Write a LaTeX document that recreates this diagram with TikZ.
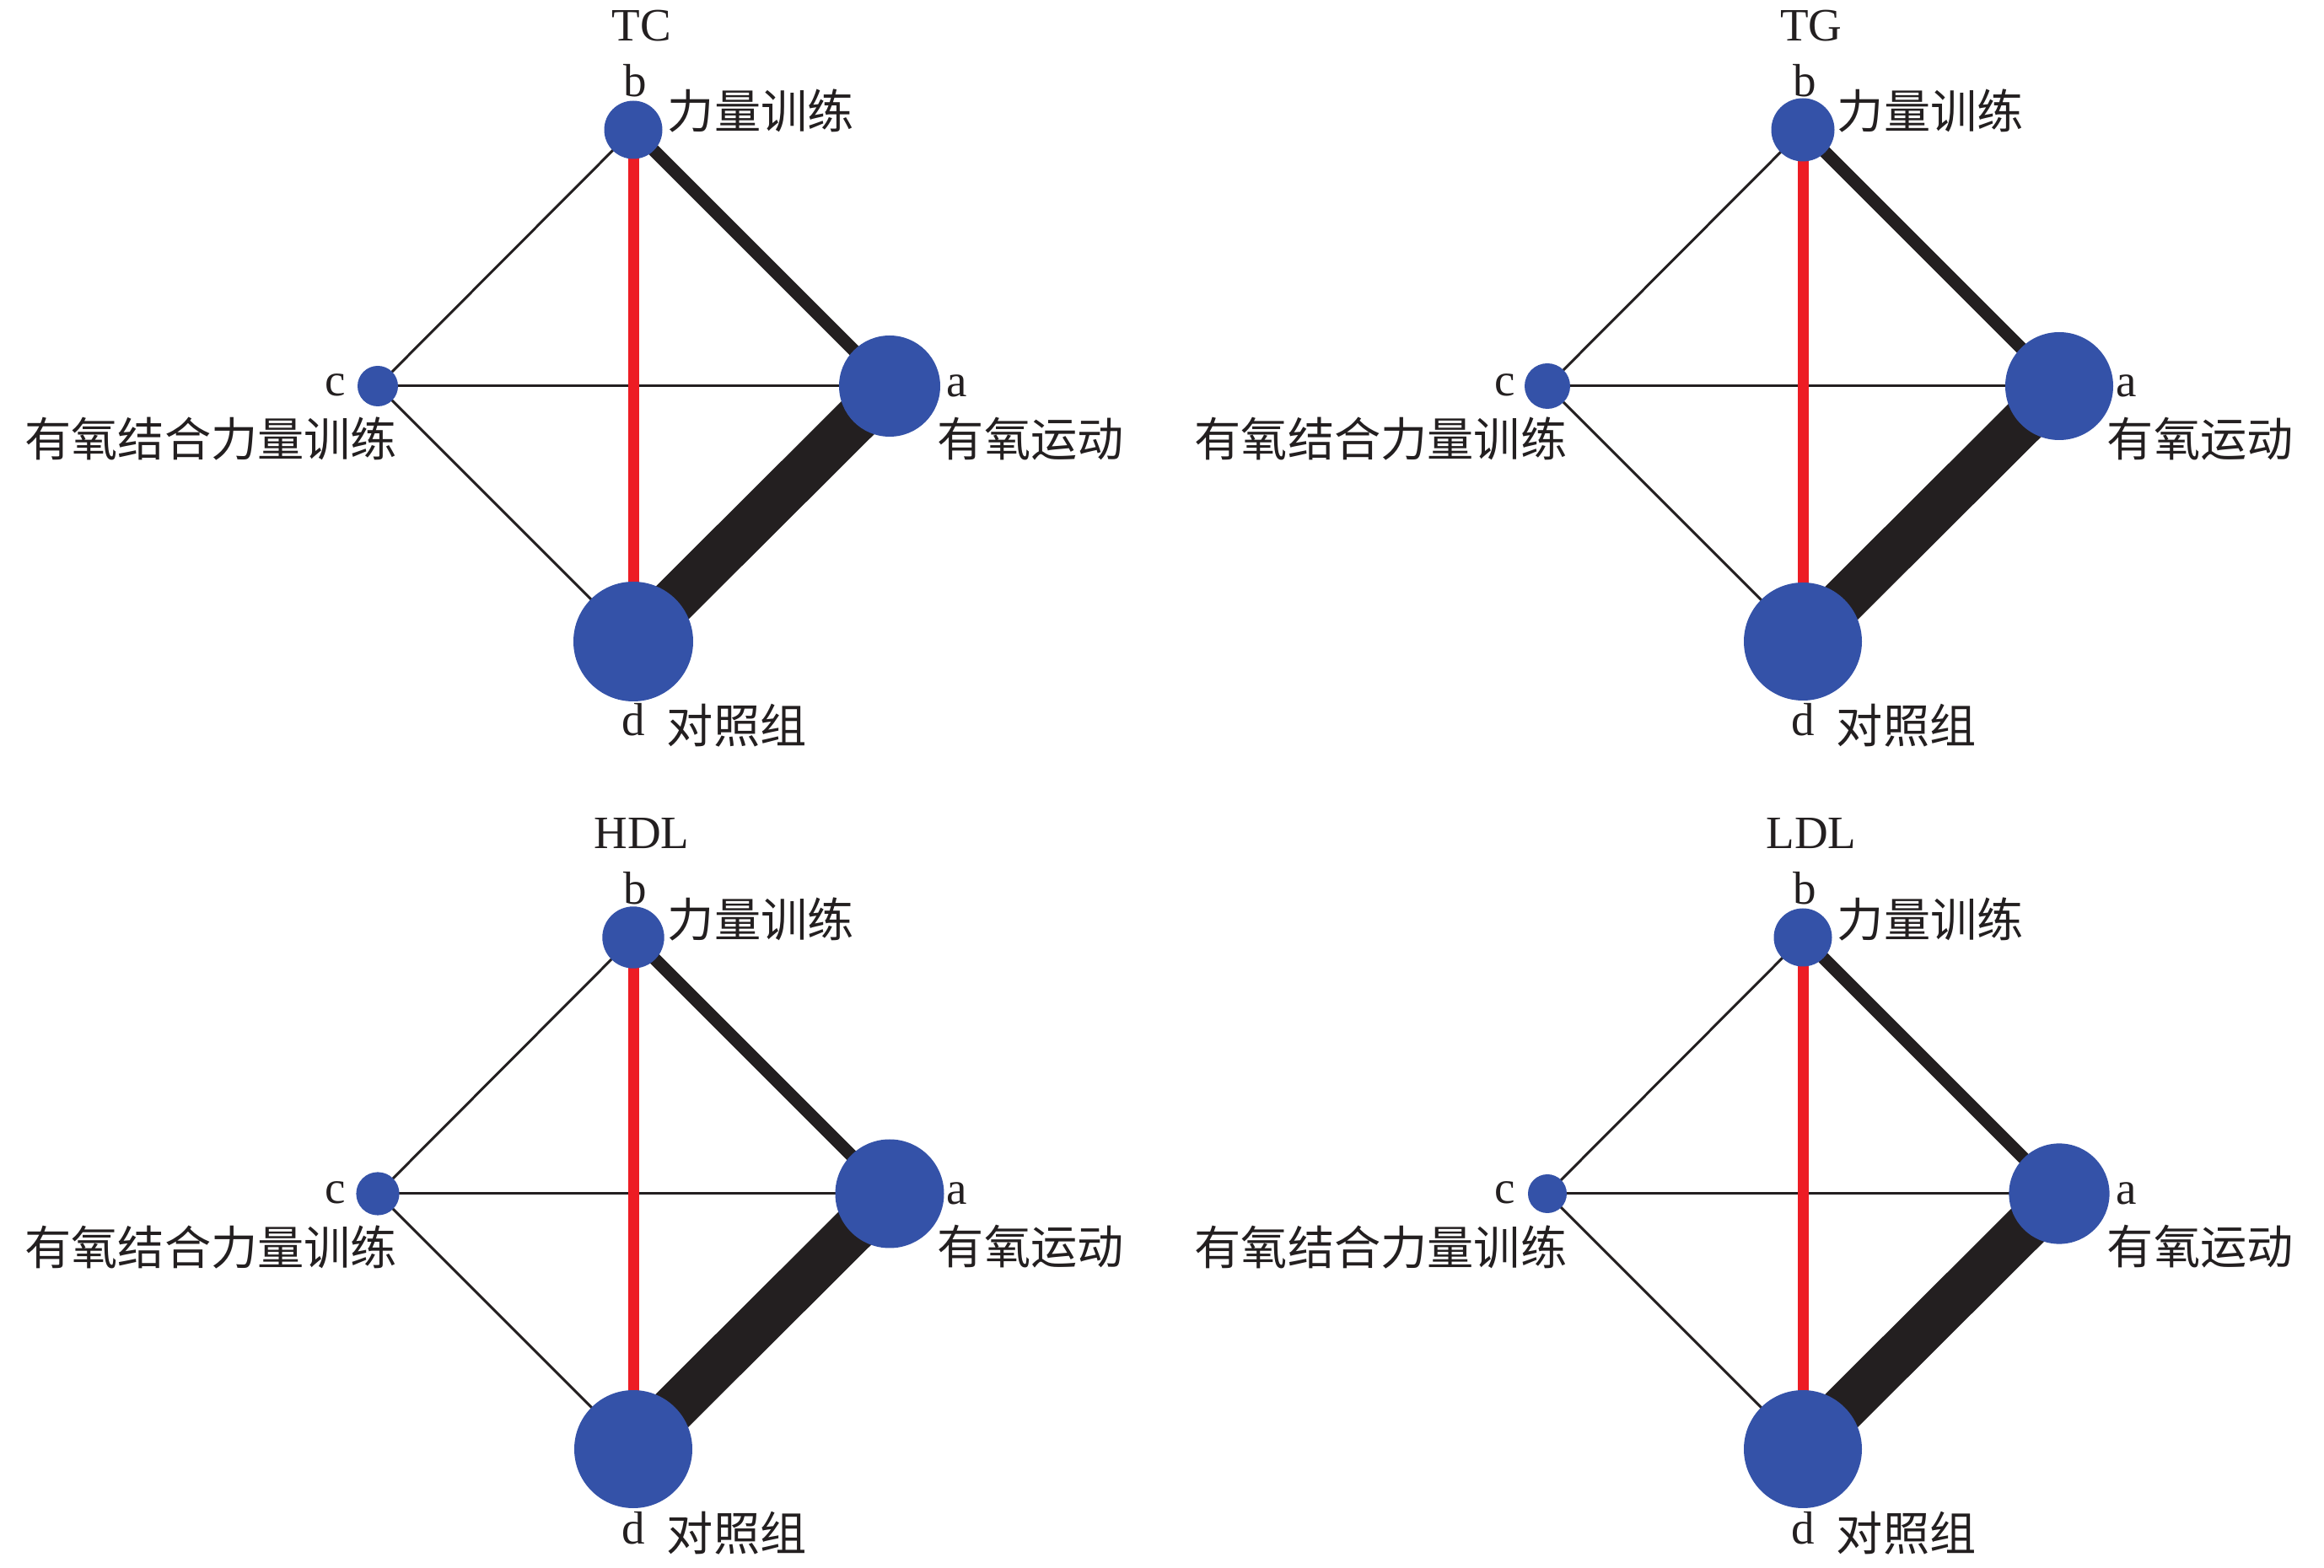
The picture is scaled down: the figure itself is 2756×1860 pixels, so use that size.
\documentclass[tikz,border=0pt]{standalone}
\usepackage{fontspec}
\setmainfont{Liberation Serif}
\newfontfamily\cjk{Noto Sans CJK SC}
\usetikzlibrary{backgrounds}
\definecolor{nodeblue}{RGB}{52,82,168}
\definecolor{edgered}{RGB}{237,28,36}
\definecolor{edgeblack}{RGB}{35,31,32}
\tikzset{
  netnode/.style={circle, fill=nodeblue, draw=none, inner sep=0pt},
  thinedge/.style={draw=edgeblack, line width=0.75pt},
  midedge/.style={draw=edgeblack, line width=3.75pt},
  thickedge/.style={draw=edgeblack, line width=13.75pt},
  rededge/.style={draw=edgered, line width=3.25pt},
  lbl/.style={font=\fontsize{13.75}{16}\selectfont, inner sep=0pt, text=edgeblack},
  cjklbl/.style={font=\fontsize{13.8}{16}\selectfont\cjk, inner sep=0pt, text=edgeblack},
}
\newcommand\netpanel[8]{%
\begin{scope}[shift={(#2,#3)}]
  \node[netnode, minimum size={#5*0.5pt}] (#1a) at (1055,458) {};
  \node[netnode, minimum size={#6*0.5pt}] (#1b) at (751,154) {};
  \node[netnode, minimum size={#7*0.5pt}] (#1c) at (448,458) {};
  \node[netnode, minimum size={#8*0.5pt}] (#1d) at (751,761) {};
  \begin{scope}[on background layer]
    \draw[thinedge] (#1b.center) -- (#1c.center);
    \draw[thinedge] (#1c.center) -- (#1d.center);
    \draw[thinedge] (#1c.center) -- (#1a.center);
    \draw[midedge] (#1b.center) -- (#1a.center);
    \draw[thickedge] (#1a.center) -- (#1d.center);
    \draw[rededge] (#1b.center) -- (#1d.center);
  \end{scope}
  \node[lbl, anchor=base] (#1t) at (761,49) {#4};
  \node[lbl, anchor=base] (#1bl) at (753,115) {b};
  \node[cjklbl, anchor=west] (#1bn) at (791,132) {力量训练};
  \node[lbl, anchor=base] (#1cl) at (398,470) {c};
  \node[cjklbl, anchor=east] (#1cn) at (472,521) {有氧结合力量训练};
  \node[lbl, anchor=base] (#1al) at (1135,471) {a};
  \node[cjklbl, anchor=west] (#1an) at (1111,521) {有氧运动};
  \node[lbl, anchor=base] (#1dl) at (751,873) {d};
  \node[cjklbl, anchor=west] (#1dn) at (790,861) {对照组};
\end{scope}}
\begin{document}
\begin{tikzpicture}[x=0.25pt, y=-0.25pt]
  \useasboundingbox (0,0) rectangle (2756,1860);
  \netpanel{tc}{0}{0}{TC}{60}{34.5}{24}{71}
  \netpanel{tg}{1387}{0}{TG}{64}{37.5}{27}{70}
  \netpanel{hdl}{0}{958}{HDL}{64.5}{36.7}{25.6}{70}
  \netpanel{ldl}{1387}{958}{LDL}{59.6}{34.5}{23}{70}
\end{tikzpicture}
\end{document}
